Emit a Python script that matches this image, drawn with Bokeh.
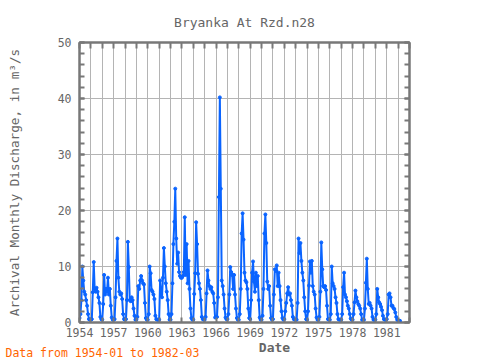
import numpy as np
from math import pi
from bokeh.plotting import figure
from bokeh.models import (ColumnDataSource, LinearAxis, FixedTicker,
                          SingleIntervalTicker, Range1d)
from bokeh.embed import file_html
from bokeh.resources import INLINE
from bokeh.core.properties import value

# ---------------- data ----------------
title_text = "Bryanka At Rzd.n28"
x_label = "Date"
y_label = "Archival Monthly Discharge, in m³/s"
footer_text = "Data from 1954-01 to 1982-03"
start_year = 1954
year_ticks = list(range(1954, 1984))
labelled_years = list(range(1954, 1982, 3))

# monthly discharge, Jan..Dec for each year
q_1954_1957 = [
    0.8, 1.5, 4.0, 10.0, 7.5, 5.5, 5.0, 4.0, 3.0, 1.5, 0.6, 0.5,
    0.5, 0.6, 5.4, 10.8, 6.0, 5.5, 6.2, 5.5, 4.5, 3.5, 1.0, 0.6,
    0.5, 3.3, 8.5, 5.0, 6.0, 5.5, 8.0, 5.0, 6.0, 3.0, 0.9, 0.5,
    0.5, 0.6, 4.5, 11.0, 15.0, 8.0, 5.5, 5.0, 5.2, 4.2, 1.5, 0.6,
]
q_1958_1961 = [
    0.5, 0.6, 4.0, 14.4, 9.9, 4.0, 3.8, 4.5, 4.0, 2.5, 1.2, 0.5,
    0.5, 1.0, 6.5, 6.0, 7.5, 8.3, 7.5, 7.0, 6.8, 3.5, 0.8, 0.5,
    0.5, 1.5, 10.0, 8.8, 5.8, 5.5, 5.0, 4.2, 1.2, 0.6, 0.5, 0.5,
    0.5, 7.5, 5.0, 4.5, 8.0, 13.3, 10.0, 7.0, 5.5, 4.0, 1.5, 0.5,
]
q_1962_1965 = [
    0.5, 1.5, 7.0, 14.0, 18.0, 23.9, 15.0, 10.5, 12.5, 9.0, 8.3, 8.0,
    8.0, 8.3, 9.0, 18.8, 8.5, 14.0, 7.0, 11.0, 6.0, 2.5, 0.8, 0.5,
    0.5, 5.1, 8.8, 17.9, 14.0, 8.7, 7.0, 6.0, 4.0, 1.0, 0.6, 0.5,
    0.5, 1.0, 5.2, 9.3, 7.5, 6.5, 6.0, 6.3, 5.5, 5.2, 3.5, 0.9,
]
q_1966_1969 = [
    0.9, 1.0, 4.5, 22.4, 40.2, 23.9, 7.5, 6.5, 5.0, 2.5, 0.9, 0.6,
    0.6, 1.5, 5.0, 9.9, 9.0, 8.5, 6.0, 8.5, 5.0, 2.5, 0.8, 0.5,
    0.5, 1.5, 6.0, 15.9, 19.5, 14.8, 8.9, 7.5, 7.2, 6.0, 2.5, 0.8,
    0.6, 4.0, 8.9, 10.9, 7.3, 5.5, 8.9, 6.5, 8.3, 4.0, 0.9, 0.5,
]
q_1970_1973 = [
    0.5, 1.2, 6.0, 15.9, 19.3, 14.2, 7.3, 6.0, 6.5, 3.0, 0.8, 0.5,
    0.6, 5.0, 9.5, 9.2, 10.2, 6.5, 8.9, 6.5, 4.0, 2.0, 0.8, 0.5,
    0.6, 2.0, 3.5, 5.2, 6.3, 5.0, 5.2, 4.0, 3.0, 1.0, 0.6, 0.5,
    0.5, 0.5, 3.5, 15.0, 12.4, 14.2, 11.0, 8.9, 7.5, 4.5, 2.0, 0.6,
]
q_1974_1977 = [
    0.5, 2.0, 6.6, 10.9, 8.9, 11.0, 6.5, 5.5, 5.0, 2.5, 0.9, 0.5,
    0.5, 1.0, 5.5, 14.3, 9.5, 6.5, 6.3, 6.5, 5.8, 3.0, 0.6, 0.5,
    0.5, 1.5, 10.0, 7.0, 6.5, 6.0, 4.5, 3.5, 1.5, 0.6, 0.5, 0.5,
    0.5, 1.5, 6.3, 8.9, 5.0, 4.5, 3.8, 3.0, 2.5, 1.5, 0.7, 0.5,
]
q_1978_1982 = [
    0.5, 1.5, 3.6, 5.7, 4.5, 3.8, 3.3, 3.0, 2.5, 1.5, 0.5, 0.4,
    0.5, 2.5, 7.1, 11.4, 6.0, 3.3, 3.5, 3.0, 2.5, 1.0, 0.5, 0.5,
    0.5, 1.5, 6.0, 4.5, 3.6, 3.3, 2.8, 2.2, 1.2, 0.6, 0.5, 0.5,
    0.6, 1.5, 5.0, 5.2, 4.5, 3.0, 3.0, 2.6, 2.4, 1.8, 1.0, 0.5,
    0.4, 0.3, 0.3,
]

discharge = (q_1954_1957 + q_1958_1961 + q_1962_1965 + q_1966_1969
             + q_1970_1973 + q_1974_1977 + q_1978_1982)
dates = start_year + np.arange(len(discharge)) / 12.0
src = ColumnDataSource(dict(x=dates, q=discharge))

# ---------------- style ----------------
FONT = "DejaVu Sans Mono"
TXT = "#666666"
AX = "#787878"
GRID = "#b4b4b4"
BLUE = "#0a64ff"

X0, X1 = 1954, 1983
Y0, Y1 = 0, 50
W, H = 480, 360
ML, MR, MT, MB = 79, 71, 42, 38

p = figure(width=W, height=H, x_range=Range1d(X0, X1), y_range=Range1d(Y0, Y1),
           output_backend="svg", toolbar_location=None,
           min_border_left=ML, min_border_right=MR,
           min_border_top=MT, min_border_bottom=MB)
p.outline_line_color = AX
p.outline_line_width = 2
p.background_fill_color = "white"
p.border_fill_color = "white"

# title
p.title.text = title_text
p.title.align = "center"
p.title.offset = 4
p.title.standoff = 25
p.title.text_font = FONT
p.title.text_font_size = "13px"
p.title.text_font_style = "normal"
p.title.text_color = TXT

# frame pixel helpers (canvas coords -> data coords) for text placement
fl, fr, ft, fb = ML, W - MR, MT, H - MB
def px_x(px):
    return X0 + (px - fl) * (X1 - X0) / (fr - fl)
def px_y(py):
    return Y0 + (fb - py) * (Y1 - Y0) / (fb - ft)

# bottom axis
xt = FixedTicker(ticks=year_ticks)
xa = p.xaxis[0]
xa.ticker = xt
xa.major_label_overrides = {y: (str(y) if y in labelled_years else "") for y in year_ticks}
xa.major_tick_in = 5
xa.major_tick_out = 0
xa.minor_tick_line_color = None
xa.major_label_standoff = 5
xa.major_label_text_font = FONT
xa.major_label_text_font_size = "11.5px"
xa.major_label_text_color = TXT
xa.axis_line_color = AX
xa.axis_line_width = 2
xa.major_tick_line_color = AX
xa.major_tick_line_width = 2

# left axis
yt = SingleIntervalTicker(interval=10, num_minor_ticks=5)
ya = p.yaxis[0]
ya.ticker = yt
ya.major_tick_in = 5
ya.major_tick_out = 0
ya.minor_tick_in = 5
ya.minor_tick_out = 0
ya.major_label_standoff = 8
ya.major_label_text_font = FONT
ya.major_label_text_font_size = "11.5px"
ya.major_label_text_color = TXT
ya.axis_line_color = AX
ya.axis_line_width = 2
ya.major_tick_line_color = AX
ya.major_tick_line_width = 2
ya.minor_tick_line_color = AX
ya.minor_tick_line_width = 2
ya.axis_label = y_label
ya.axis_label_standoff = 33
ya.axis_label_text_font = FONT
ya.axis_label_text_font_size = "12.7px"
ya.axis_label_text_font_style = "normal"
ya.axis_label_text_color = TXT

# top and right axes (ticks only)
top = LinearAxis(ticker=FixedTicker(ticks=year_ticks), major_tick_in=6, major_tick_out=0,
                 minor_tick_line_color=None, major_label_text_color=None,
                 major_label_text_font_size="1px", major_label_standoff=0,
                 axis_line_color=AX, axis_line_width=2,
                 major_tick_line_color=AX, major_tick_line_width=2)
p.add_layout(top, "above")
right = LinearAxis(ticker=SingleIntervalTicker(interval=10, num_minor_ticks=5),
                   major_tick_in=5, major_tick_out=0, minor_tick_in=5, minor_tick_out=0,
                   major_label_text_color=None, major_label_text_font_size="1px",
                   major_label_standoff=0,
                   axis_line_color=AX, axis_line_width=2,
                   major_tick_line_color=AX, major_tick_line_width=2,
                   minor_tick_line_color=AX, minor_tick_line_width=2)
p.add_layout(right, "right")

p.xgrid.ticker = xt
p.xgrid.grid_line_color = GRID
p.ygrid.grid_line_color = GRID
p.xgrid.grid_line_width = 1
p.ygrid.grid_line_width = 1

# data
p.line("x", "q", source=src, line_color=BLUE, line_width=2)
p.scatter("x", "q", source=src, size=3, color=BLUE)

# texts below the frame (overlay level so they are not clipped to the frame)
p.text(x=[px_x(274)], y=[px_y(347)], text=[x_label], text_align="center",
       text_baseline="middle", text_font=value(FONT), text_font_size="13px",
       text_font_style="bold", text_color=TXT, level="overlay")
p.text(x=[px_x(5)], y=[px_y(352)], text=[footer_text], text_align="left",
       text_baseline="middle", text_font=value(FONT), text_font_size="11.5px",
       text_color="#ff6400", level="overlay")

open("out.html", "w").write(file_html(p, INLINE))
